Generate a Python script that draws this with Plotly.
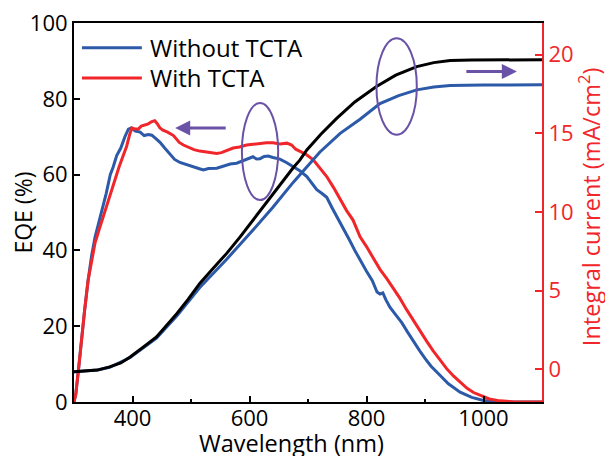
import plotly.graph_objects as go

# ---------------- data ----------------
wl_blue = [300, 303, 308, 313, 318, 324, 330, 336, 342, 348, 355, 362, 367, 373, 380, 387, 393, 398,
           405, 413, 420, 427, 433, 440, 447, 455, 464, 472, 481, 490, 504, 513, 521, 530, 544,
           556, 567, 578, 587, 597, 606, 612, 618, 625, 632, 640, 652, 663, 675, 686, 698, 707,
           715, 724, 732, 742, 751, 760, 770, 780, 789, 800, 810, 818, 823, 828, 833, 840, 850,
           860, 870, 880, 891, 900, 910, 926, 940, 960, 980, 1000, 1020, 1050, 1100]
eqe_blue = [0, 2, 9, 17, 24, 32, 38.5, 43.5, 47, 50.5, 55, 60, 62, 65, 67, 70, 72, 72.3,
            71.5, 71.2, 70.3, 70.6, 70.4, 69.5, 68.5, 67, 65.3, 64, 63.2, 62.8, 62.1, 61.6, 61.2, 61.6, 61.7,
            62.2, 62.8, 63, 63.5, 64.2, 64.7, 64.1, 64.2, 64.8, 64.9, 64.5, 64.1, 63.2, 62.1, 61, 59.5, 57.5,
            56, 55, 54, 51, 48.5, 46, 43, 40, 37.4, 34.5, 32, 29, 28.5, 28.8, 27, 25, 23,
            21, 18.5, 16, 13.5, 11.5, 9.5, 7, 4.8, 2.6, 1.2, 0.4, 0.1, 0, 0]

wl_red = [300, 303, 308, 313, 318, 324, 330, 336, 343, 350, 356, 363, 370, 377, 384, 390, 395, 399,
          405, 410, 415, 420, 427, 433, 438, 442, 447, 452, 460, 470, 480, 487, 495, 505, 515, 525,
          535, 544, 552, 560, 572, 583, 595, 606, 617, 629, 640, 652, 664, 672, 679, 686, 697, 709,
          720, 732, 744, 755, 766, 777, 789, 800, 812, 823, 835, 846, 857, 868, 880, 891, 903, 914,
          926, 937, 949, 960, 972, 983, 994, 1010, 1028, 1050, 1100]
eqe_red = [0, 2, 9, 17, 24, 32, 37.4, 42, 45.5, 49, 52, 55, 59, 62, 65, 67.5, 70.5, 72.3,
           72, 72, 72.8, 73, 73.4, 74, 74.2, 73.5, 72.3, 71.7, 71.2, 70.3, 68.5, 67.8, 67.2, 66.6, 66.2, 66,
           65.7, 65.6, 65.8, 66.3, 67, 67.3, 67.8, 68, 68.2, 68.4, 68.4, 68.1, 68.3, 67.8, 66.7, 66.1, 65.3, 63.9,
           61.8, 59.5, 56.5, 53.3, 50.5, 48, 43.6, 41, 38, 35, 32.5, 30, 27.4, 24.5, 21.5, 19, 16, 13.5,
           11, 8.8, 6.8, 5.2, 3.6, 2.5, 1.8, 0.8, 0.3, 0.05, 0]

wl_int_black = [300, 320, 340, 361, 380, 396, 410, 425, 441, 458, 476, 495, 515, 538, 561, 584, 606,
                629, 652, 675, 686, 698, 722, 749, 780, 817, 850, 886, 915, 943, 980, 1100]
j_black = [-0.15, -0.12, -0.05, 0.15, 0.4, 0.78, 1.15, 1.6, 2.06, 2.75, 3.55, 4.45, 5.46, 6.42, 7.37, 8.42, 9.49,
           10.6, 11.7, 12.83, 13.3, 13.95, 14.95, 15.95, 17.0, 17.98, 18.7, 19.25, 19.5, 19.64, 19.67, 19.68]

wl_int_blue = [300, 340, 361, 396, 441, 476, 515, 561, 606, 640, 675, 698, 720, 755, 789, 823, 855,
               886, 915, 943, 1000, 1100]
j_blue = [-0.15, -0.05, 0.13, 0.75, 1.98, 3.4, 5.2, 7.0, 8.85, 10.3, 11.9, 12.9, 13.8, 15.0, 15.9, 16.9, 17.4,
          17.77, 17.95, 18.04, 18.08, 18.09]

legend_labels = ["Without TCTA", "With TCTA"]
x_ticks = [400, 600, 800, 1000]
y_ticks = [0, 20, 40, 60, 80, 100]
y2_ticks = [0, 5, 10, 15, 20]
x_title = "Wavelength (nm)"
y_title = "EQE (%)"
y2_title = "Integral current (mA/cm<sup>2</sup>)"

BLUE = "#2c5aa8"
RED = "#f0262b"
PURPLE = "#6a52a6"
FONT = "Open Sans"

fig = go.Figure()
fig.add_trace(go.Scatter(x=wl_int_blue, y=j_blue, mode="lines", yaxis="y2",
                         line=dict(color=BLUE, width=3), showlegend=False))
fig.add_trace(go.Scatter(x=wl_int_black, y=j_black, mode="lines", yaxis="y2",
                         line=dict(color="black", width=3), showlegend=False))
fig.add_trace(go.Scatter(x=wl_blue, y=eqe_blue, mode="lines",
                         line=dict(color=BLUE, width=3), showlegend=False))
fig.add_trace(go.Scatter(x=wl_red, y=eqe_red, mode="lines",
                         line=dict(color=RED, width=3), showlegend=False))

# manual legend
for i, (lab, col) in enumerate(zip(legend_labels, [BLUE, RED])):
    yy = 0.935 - i * 0.08
    fig.add_shape(type="line", xref="paper", yref="paper", x0=0.017, x1=0.145, y0=yy, y1=yy,
                  line=dict(color=col, width=3))
    fig.add_annotation(xref="paper", yref="paper", x=0.158, y=yy, text=lab, showarrow=False,
                       xanchor="left", yanchor="middle", font=dict(family=FONT, size=24, color="black"))

# axis titles as annotations
fig.add_annotation(xref="paper", yref="paper", x=0.4637, y=-0.109, text=x_title, showarrow=False,
                   xanchor="center", yanchor="middle", font=dict(family=FONT, size=23.5, color="black"))
fig.add_annotation(xref="paper", yref="paper", x=-0.111, y=0.5, text=y_title, showarrow=False,
                   textangle=-90, xanchor="center", yanchor="middle",
                   font=dict(family=FONT, size=23, color="black"))
fig.add_annotation(xref="paper", yref="paper", x=1.102, y=0.516, text=y2_title, showarrow=False,
                   textangle=-90, xanchor="center", yanchor="middle",
                   font=dict(family=FONT, size=23.5, color=RED))

# ellipses
fig.add_shape(type="circle", xref="x", yref="y", x0=587, x1=649, y0=53.3, y1=78.9,
              line=dict(color=PURPLE, width=2))
fig.add_shape(type="circle", xref="x", yref="y", x0=817, x1=886, y0=70.5, y1=96.0,
              line=dict(color=PURPLE, width=2))

# arrows
fig.add_annotation(x=473, y=72.3, ax=567, ay=72.3, xref="x", yref="y", axref="x", ayref="y",
                   showarrow=True, arrowhead=2, arrowsize=1, arrowwidth=3, arrowcolor=PURPLE, text=" ")
fig.add_annotation(x=1057, y=87.2, ax=963, ay=87.2, xref="x", yref="y", axref="x", ayref="y",
                   showarrow=True, arrowhead=2, arrowsize=1, arrowwidth=3, arrowcolor=PURPLE, text=" ")

fig.update_layout(
    width=605, height=456,
    margin=dict(l=74, r=63, t=23, b=54),
    plot_bgcolor="white", paper_bgcolor="white",
    font=dict(family=FONT, size=22, color="black"),
    xaxis=dict(range=[300, 1100], tickvals=x_ticks, showline=True, linecolor="black", linewidth=2,
               mirror=True, ticks="inside", ticklen=6, tickwidth=2, tickcolor="black",
               minor=dict(ticks="inside", ticklen=3, tickwidth=2, dtick=100, tick0=300, tickcolor="black"),
               showgrid=False, zeroline=False, automargin=False, tickfont=dict(size=22),
               ticklabelstandoff=-4),
    yaxis=dict(range=[0, 100], tickvals=y_ticks, showline=True, linecolor="black", linewidth=2,
               ticks="inside", ticklen=6, tickwidth=2, tickcolor="black", showgrid=False, zeroline=False,
               automargin=False, tickfont=dict(size=22)),
    yaxis2=dict(range=[-2.08, 22.02], tickvals=y2_ticks, overlaying="y", side="right", showline=True,
                linecolor=RED, linewidth=2, ticks="inside", ticklen=7, tickwidth=2, tickcolor=RED,
                showgrid=False, zeroline=False, tickfont=dict(size=22, color=RED), automargin=False),
)

fig.write_html("out.html")
